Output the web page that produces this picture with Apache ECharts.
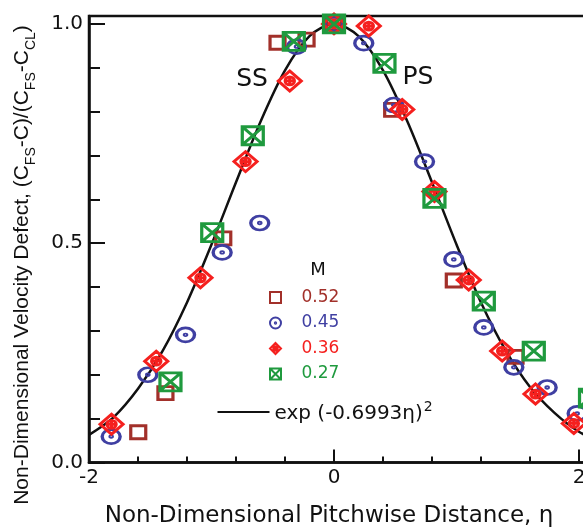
<!DOCTYPE html>
<html>
<head>
<meta charset="utf-8">
<script src="https://cdn.jsdelivr.net/npm/echarts@6/dist/echarts.min.js"></script>
<style>
  html, body { margin: 0; padding: 0; background: #fff; }
  #velocity-chart { width: 583px; height: 527px; }
</style>
</head>
<body>
<div id="velocity-chart"></div>
<script>
// values
const machLabels = ['0.52', '0.45', '0.36', '0.27'];

const eta052 = [-1.598, -1.376, -0.904, -0.461, -0.224, 0.0, 0.475, 0.978, 1.482];
const val052 = [0.069, 0.158, 0.511, 0.957, 0.964, 1.0, 0.804, 0.415, 0.241];

const eta045 = [-1.819, -1.520, -1.212, -0.913, -0.606, -0.306, 0.0, 0.243, 0.488, 0.739, 0.978, 1.223, 1.468, 1.740, 1.985];
const val045 = [0.059, 0.200, 0.291, 0.479, 0.546, 0.948, 1.0, 0.956, 0.815, 0.686, 0.463, 0.308, 0.217, 0.171, 0.112];

const eta036 = [-1.816, -1.451, -1.090, -0.722, -0.361, 0.0, 0.284, 0.557, 0.820, 1.100, 1.373, 1.645, 1.958];
const val036 = [0.087, 0.231, 0.421, 0.686, 0.870, 1.0, 0.995, 0.805, 0.618, 0.416, 0.254, 0.156, 0.089];

const eta027 = [-1.661, -1.335, -0.994, -0.663, -0.328, 0.0, 0.412, 0.820, 1.223, 1.631, 2.09];
const val027 = [-0.02, 0.184, 0.524, 0.745, 0.960, 1.0, 0.910, 0.602, 0.368, 0.254, 0.147];

// fitted curve
const curveEta = [-2.0, -1.8, -1.6, -1.4, -1.2, -1.0, -0.8, -0.6, -0.4, -0.2, 0.0, 0.2, 0.4, 0.6, 0.8, 1.0, 1.2, 1.4, 1.6, 1.8, 2.0, 2.2];
const curveVal = [0.063, 0.103, 0.168, 0.254, 0.365, 0.497, 0.639, 0.777, 0.894, 0.972, 1.0, 0.972, 0.894, 0.777, 0.639, 0.497, 0.365, 0.256, 0.172, 0.113, 0.070, 0.045];

const xTickLabels = [-2, 0, 2];
const yTickLabels = [0, 0.5, 1.0];

const colors = ['#a2302a', '#3f3fa2', '#f5201e', '#1f9a3e'];
const symbols = [
  'path://M-10,-10L10,-10L10,10L-10,10Z',
  'path://M10,0A10,10 0 1 1 -10,0A10,10 0 1 1 10,0Z M1.2,0A1.2,1.2 0 1 1 -1.2,0A1.2,1.2 0 1 1 1.2,0Z',
  'path://M0,-10L10,0L0,10L-10,0Z M-5,0L5,0 M0,-5L0,5 M4,0A4,4 0 1 1 -4,0A4,4 0 1 1 4,0Z',
  'path://M-10,-10L10,-10L10,10L-10,10Z M-10,-10L10,10 M10,-10L-10,10'
];
const sizes = [[15, 13], [18, 14], [23, 20], [21, 18]];

const chart = echarts.init(document.getElementById('velocity-chart'));

const pair = (xs, ys) => xs.map((x, i) => [x, ys[i]]);
const onTick = (list, v) => list.some(t => Math.abs(t - v) < 1e-6);

const scatterData = [pair(eta052, val052), pair(eta045, val045), pair(eta036, val036), pair(eta027, val027)];

const scatterSeries = machLabels.map((name, i) => ({
  name: name,
  type: 'scatter',
  symbol: symbols[i],
  symbolSize: sizes[i],
  itemStyle: { color: 'rgba(0,0,0,0)', borderColor: colors[i], borderWidth: 3, opacity: 1 },
  silent: true,
  z: 3 + i,
  data: scatterData[i]
}));

const option = {
  animation: false,
  backgroundColor: '#fff',
  grid: {
    left: 89, top: 16, right: -20.5, bottom: 64.5,
    show: true, borderColor: '#111', borderWidth: 2.5,
    outerBoundsMode: 'none'
  },
  xAxis: [
    {
      type: 'value', min: -2, max: 2.2, interval: 0.4, position: 'bottom',
      axisLine: { onZero: false, lineStyle: { color: '#111', width: 2.5 } },
      axisTick: { inside: true, length: 6, lineStyle: { color: '#111', width: 2 } },
      axisLabel: {
        margin: 5, color: '#111', fontSize: 20, fontFamily: 'DejaVu Sans',
        formatter: v => onTick(xTickLabels, v) ? String(Math.round(v)) : ''
      },
      splitLine: { show: false }
    },
    {
      type: 'value', min: -2, max: 2.2, interval: 2, position: 'bottom',
      axisLine: { show: false },
      axisTick: { inside: true, length: 13, lineStyle: { color: '#111', width: 2 } },
      axisLabel: { show: false },
      splitLine: { show: false }
    }
  ],
  yAxis: [
    {
      type: 'value', min: 0, max: 1.018, interval: 0.1, position: 'left',
      axisLine: { onZero: false, lineStyle: { color: '#111', width: 2.5 } },
      axisTick: { inside: true, length: 11, lineStyle: { color: '#111', width: 2 } },
      axisLabel: {
        margin: 6, color: '#111', fontSize: 20, fontFamily: 'DejaVu Sans',
        formatter: v => onTick(yTickLabels, v) ? v.toFixed(1) : ''
      },
      splitLine: { show: false }
    },
    {
      type: 'value', min: 0, max: 1.018, interval: 0.5, position: 'left',
      axisLine: { show: false, onZero: false },
      axisTick: { inside: true, length: 16, lineStyle: { color: '#111', width: 2 } },
      axisLabel: { show: false },
      splitLine: { show: false }
    }
  ],
  legend: [
    {
      orient: 'vertical', left: 264, top: 283.5, itemGap: 7.5,
      itemWidth: 22, itemHeight: 11,
      selectedMode: false,
      itemStyle: { borderWidth: 2 },
      textStyle: { fontSize: 17, lineHeight: 18, fontFamily: 'DejaVu Sans', padding: [0, 0, 0, 10] },
      data: machLabels.map((name, i) => ({ name: name, textStyle: { color: colors[i] } }))
    },
    {
      orient: 'vertical', left: 211.5, top: 395, itemWidth: 52, itemHeight: 14,
      selectedMode: false,
      itemStyle: { opacity: 0 },
      formatter: () => '{a|exp (-0.6993η)}{s|2}',
      textStyle: {
        color: '#111', fontFamily: 'DejaVu Sans',
        rich: {
          a: { fontSize: 20, lineHeight: 24, fontFamily: 'DejaVu Sans', color: '#111', verticalAlign: 'bottom' },
          s: { fontSize: 14, lineHeight: 24, fontFamily: 'DejaVu Sans', color: '#111', verticalAlign: 'top', padding: [0, 0, 0, 1] }
        }
      },
      data: ['fit']
    }
  ],
  graphic: [
    {
      type: 'text', x: 318, y: 270,
      style: { text: 'M', fontSize: 18, fontFamily: 'DejaVu Sans', fill: '#111', textAlign: 'center', textVerticalAlign: 'middle' }
    },
    {
      type: 'text', x: 252, y: 79,
      style: { text: 'SS', fontSize: 25, fontFamily: 'DejaVu Sans', fill: '#111', textAlign: 'center', textVerticalAlign: 'middle' }
    },
    {
      type: 'text', x: 418, y: 77,
      style: { text: 'PS', fontSize: 25, fontFamily: 'DejaVu Sans', fill: '#111', textAlign: 'center', textVerticalAlign: 'middle' }
    },
    {
      type: 'text', x: 329, y: 516,
      style: { text: 'Non-Dimensional Pitchwise Distance, η', fontSize: 23, fontFamily: 'DejaVu Sans', fill: '#111', textAlign: 'center', textVerticalAlign: 'middle' }
    },
    {
      type: 'text', x: 25, y: 265, rotation: Math.PI / 2,
      style: {
        text: '{a|Non-Dimensional Velocity Defect, (C}{s|FS}{a|-C)/(C}{s|FS}{a|-C}{s|CL}{a|)}',
        textAlign: 'center', textVerticalAlign: 'middle', fill: '#111',
        rich: {
          a: { fontSize: 21, lineHeight: 26, fontFamily: 'Liberation Sans', fill: '#111', verticalAlign: 'top' },
          s: { fontSize: 14, lineHeight: 26, fontFamily: 'Liberation Sans', fill: '#111', verticalAlign: 'bottom' }
        }
      }
    }
  ],
  series: [
    {
      name: 'fit',
      type: 'line',
      symbol: 'none',
      smooth: 0.3,
      silent: true,
      z: 2,
      lineStyle: { color: '#111', width: 2.5 },
      itemStyle: { color: '#111' },
      data: pair(curveEta, curveVal)
    },
    ...scatterSeries
  ]
};

chart.setOption(option);
window.addEventListener('resize', () => chart.resize());
</script>
</body>
</html>
